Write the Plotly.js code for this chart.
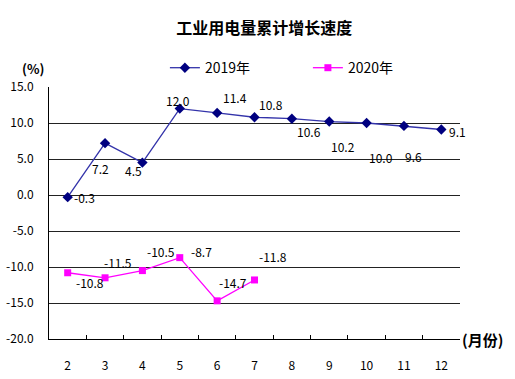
<!DOCTYPE html>
<html><head><meta charset="utf-8">
<script src="https://cdn.plot.ly/plotly-3.0.1.min.js"></script>
<style>html,body{margin:0;padding:0;background:#fff;}#chart{width:515px;height:379px;}</style>
</head><body><div id="chart"></div>
<script>
const months = ['2','3','4','5','6','7','8','9','10','11','12'];
const growth2019 = [-0.3, 7.2, 4.5, 12.0, 11.4, 10.8, 10.6, 10.2, 10.0, 9.6, 9.1];
const months2020 = ['2','3','4','5','6','7'];
const growth2020 = [-10.8, -11.5, -10.5, -8.7, -14.7, -11.8];
const yTickVals = [15, 10, 5, 0, -5, -10, -15, -20];
const yTickText = ['15.0','10.0','5.0','0.0','-5.0','-10.0','-15.0','-20.0'];

// label offsets (styling)
const off2019 = [[17,0],[-5,-25],[-9,-8],[-2,8],[18,15],[16,13],[17,-13],[14,-25],[14,-34],[10,-31],[16,-2]];
const off2020 = [[22,-10],[13,15],[19,19],[22,6],[16,18],[18,23]];

const FONT = 'Noto Sans CJK SC, sans-serif';
const CJK = 'Noto Sans CJK SC, sans-serif';

const traces = [
  {x: months, y: growth2019, name: '2019年', type: 'scatter', mode: 'lines+markers',
   line: {color: '#3333aa', width: 1.3}, marker: {symbol: 'diamond', size: 8, color: '#000080'}},
  {x: months2020, y: growth2020, name: '2020年', type: 'scatter', mode: 'lines+markers',
   line: {color: '#ff00ff', width: 1.3}, marker: {symbol: 'square', size: 7, color: '#ff00ff'}}
];

const annotations = [];
growth2019.forEach((v,i)=>annotations.push({x: months.indexOf(months[i]), y: v, text: v.toFixed(1), showarrow:false,
  xshift: off2019[i][0], yshift: off2019[i][1], font:{family:FONT,size:12,color:'#000'}}));
growth2020.forEach((v,i)=>annotations.push({x: months.indexOf(months2020[i]), y: v, text: v.toFixed(1), showarrow:false,
  xshift: off2020[i][0], yshift: off2020[i][1], font:{family:FONT,size:12,color:'#000'}}));
annotations.push({xref:'paper', yref:'paper', x:-0.039, y:1.075, xanchor:'center', yanchor:'middle', text:'<b>(%)</b>', showarrow:false,
  font:{family:CJK,size:13,color:'#000'}});
annotations.push({xref:'paper', yref:'paper', x:1.0, xanchor:'left', y:0.0, yanchor:'middle', text:'<b>(月份)</b>', showarrow:false,
  font:{family:CJK,size:15,color:'#000'}});

const layout = {
  width: 515, height: 379,
  margin: {l: 49, r: 55, t: 87, b: 40},
  paper_bgcolor: '#fff', plot_bgcolor: '#fff',
  title: {text: '<b>工业用电量累计增长速度</b>', x: 0.513, xanchor: 'center', y: 0.925, yanchor: 'middle',
    font: {family: CJK, size: 16, color: '#000'}},
  showlegend: true,
  legend: {orientation: 'h', x: 0.282, y: 1.075, xanchor: 'left', yanchor: 'middle',
    font: {family: FONT, size: 14, color: '#000'}, entrywidth: 98, entrywidthmode: 'pixels',
    bgcolor: 'rgba(0,0,0,0)'},
  xaxis: {type: 'category', range: [-0.5, 10.5], showgrid: false, showline: true, linecolor: '#000', linewidth: 1,
    ticks: 'inside', ticklen: 4, tickcolor: '#000', tickson: 'boundaries',
    tickfont: {family: FONT, size: 12, color: '#000'}, zeroline: false, ticklabelstandoff: 16},
  yaxis: {range: [-20, 15], tickvals: yTickVals, ticktext: yTickText, showgrid: true, gridcolor: '#222', gridwidth: 1,
    showline: true, linecolor: '#000', linewidth: 1, ticks: '', zeroline: false,
    tickfont: {family: FONT, size: 12, color: '#000'}, ticklabelstandoff: 12},
  annotations: annotations
};
Plotly.newPlot('chart', traces, layout, {displayModeBar: false, staticPlot: true});
</script></body></html>
